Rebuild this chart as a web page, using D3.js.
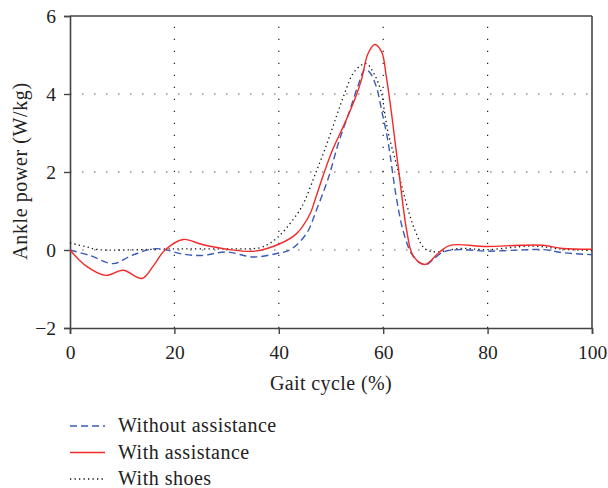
<!DOCTYPE html>
<html><head><meta charset="utf-8">
<script src="https://cdn.jsdelivr.net/npm/d3@7"></script>
<style>body{margin:0;background:#fff;} svg{display:block;} text{font-family:"Liberation Serif","DejaVu Serif",serif;fill:#222;}</style>
</head><body>
<svg id="c" width="608" height="488"></svg>
<script>
const xTicks = [0, 20, 40, 60, 80, 100];
const yTicks = [-2, 0, 2, 4, 6];
const seriesNames = ["Without assistance", "With assistance", "With shoes"];

const withoutX = [0, 3.8, 8.3, 11.8, 16, 18.2, 21.4, 25.2, 30, 35.1, 39.6, 42.1, 45.3, 47.2, 49.5, 51.4, 53.6, 55.2, 56.5, 57.4, 58.7, 59.7, 60.9, 62.5, 63.8, 65.4, 67, 68.3, 69.5, 71.5, 74.7, 79.8, 86.2, 90.6, 94.5, 100];
const withoutY = [0, -0.14, -0.35, -0.14, 0.03, 0.01, -0.1, -0.14, -0.05, -0.18, -0.09, 0, 0.42, 1.02, 1.85, 2.73, 3.58, 4.22, 4.63, 4.56, 4.18, 3.58, 2.8, 1.36, 0.5, -0.09, -0.33, -0.37, -0.25, -0.05, 0.01, -0.03, 0, 0.01, -0.07, -0.12];

const withX = [0, 3, 6.8, 10.2, 13.8, 16, 18.2, 21.7, 25.3, 30.6, 35.4, 40.2, 43.4, 46, 46.9, 48.6, 50.4, 52.3, 54.6, 55.8, 57.1, 58.4, 59.7, 60.6, 61.6, 62.4, 63.2, 64.5, 65.7, 68, 70.8, 72.8, 79.8, 86.2, 90.6, 94.4, 100];
const withY = [0, -0.4, -0.65, -0.52, -0.73, -0.4, 0.0, 0.27, 0.14, 0.01, -0.03, 0.16, 0.42, 0.93, 1.27, 1.95, 2.6, 3.15, 3.88, 4.35, 5.04, 5.27, 5.08, 4.44, 3.5, 2.64, 1.79, 0.5, -0.14, -0.37, -0.05, 0.12, 0.09, 0.12, 0.12, 0.04, 0.02];

const shoesX = [0, 2.9, 5.4, 10, 20, 25, 31.3, 36.4, 38.6, 40.5, 42.4, 44, 45, 47, 49.1, 51.1, 52.7, 54.2, 55.8, 56.8, 58.4, 59.7, 60.3, 61, 62.5, 64.1, 66.1, 68, 70.2, 74.7, 79.8, 88.6, 94.4, 100];
const shoesY = [0.18, 0.09, 0.01, 0.0, 0.03, 0.03, 0.03, 0.06, 0.2, 0.42, 0.72, 1.02, 1.27, 1.95, 2.68, 3.45, 4.05, 4.52, 4.74, 4.78, 4.48, 4.01, 3.5, 2.98, 2.21, 1.36, 0.5, 0.03, -0.05, 0.04, 0.01, 0.1, 0.02, -0.01];

const svg = d3.select("#c");
const L = 70, R = 592, T = 16, B = 328;
const x = d3.scaleLinear().domain([0, 100]).range([L, R]);
const y = d3.scaleLinear().domain([-2, 6]).range([B, T]);

// grid
svg.append("g").selectAll("line").data([0, 2, 4]).join("line")
  .attr("x1", L).attr("x2", R).attr("y1", d => y(d)).attr("y2", d => y(d))
  .attr("stroke", "#999").attr("stroke-width", 1.6).attr("stroke-dasharray", "1.6,10.4");
svg.append("g").selectAll("line").data([20, 40, 60, 80]).join("line")
  .attr("x1", d => x(d)).attr("x2", d => x(d)).attr("y1", B).attr("y2", T)
  .attr("stroke", "#222").attr("stroke-width", 1.2).attr("stroke-dasharray", "1.2,10.8");

// axes
const fs = "19.5px";
const gx = svg.append("g").attr("transform", `translate(0,${B})`)
  .call(d3.axisBottom(x).tickValues(xTicks).tickSize(6).tickPadding(11).tickFormat(d3.format("d")));
const gy = svg.append("g").attr("transform", `translate(${L},0)`)
  .call(d3.axisLeft(y).tickValues(yTicks).tickSize(6).tickPadding(8).tickFormat(d => d < 0 ? "\u2212" + Math.abs(d) : d));
[gx, gy].forEach(g => {
  g.select(".domain").attr("stroke", "#444").attr("stroke-width", 1.6);
  g.selectAll(".tick line").attr("stroke", "#444").attr("stroke-width", 1.4);
  g.selectAll("text").attr("font-family", '"Liberation Serif", serif').attr("font-size", fs).attr("fill", "#222");
});
svg.append("line").attr("x1", L).attr("x2", R).attr("y1", T).attr("y2", T).attr("stroke", "#444").attr("stroke-width", 1.6);
svg.append("line").attr("x1", R).attr("x2", R).attr("y1", T).attr("y2", B).attr("stroke", "#444").attr("stroke-width", 1.6);

// lines
const line = (xs, ys) => d3.line().curve(d3.curveCatmullRom.alpha(0.5))
  .x((d, i) => x(xs[i])).y((d, i) => y(ys[i]))(xs);
const styles = [
  {xs: withoutX, ys: withoutY, color: "#3a5bb5", dash: "7,4", w: 1.4},
  {xs: withX, ys: withY, color: "#f22a2a", dash: null, w: 1.4},
  {xs: shoesX, ys: shoesY, color: "#111", dash: "1.3,3.2", w: 1.3}
];
const plot = svg.append("g");
[2, 0, 1].forEach(i => {
  const s = styles[i];
  plot.append("path").attr("d", line(s.xs, s.ys)).attr("fill", "none")
    .attr("stroke", s.color).attr("stroke-width", s.w)
    .attr("stroke-dasharray", s.dash);
});

// labels
svg.append("text").attr("x", 331).attr("y", 390).attr("text-anchor", "middle")
  .attr("font-size", "20px").attr("letter-spacing", "0.4px").text("Gait cycle (%)");
svg.append("text").attr("transform", `translate(27,171) rotate(-90)`).attr("text-anchor", "middle")
  .attr("font-size", "20px").attr("letter-spacing", "0.6px").text("Ankle power (W/kg)");

// legend
const lg = svg.append("g");
seriesNames.forEach((n, i) => {
  const yy = 426 + i * 26.5;
  const s = styles[i];
  lg.append("line").attr("x1", 70).attr("x2", 105).attr("y1", yy).attr("y2", yy)
    .attr("stroke", s.color).attr("stroke-width", s.w).attr("stroke-dasharray", s.dash);
  lg.append("text").attr("x", 118).attr("y", yy + 6).attr("font-size", "20px")
    .attr("letter-spacing", "0.5px").text(n);
});
</script>
</body></html>
